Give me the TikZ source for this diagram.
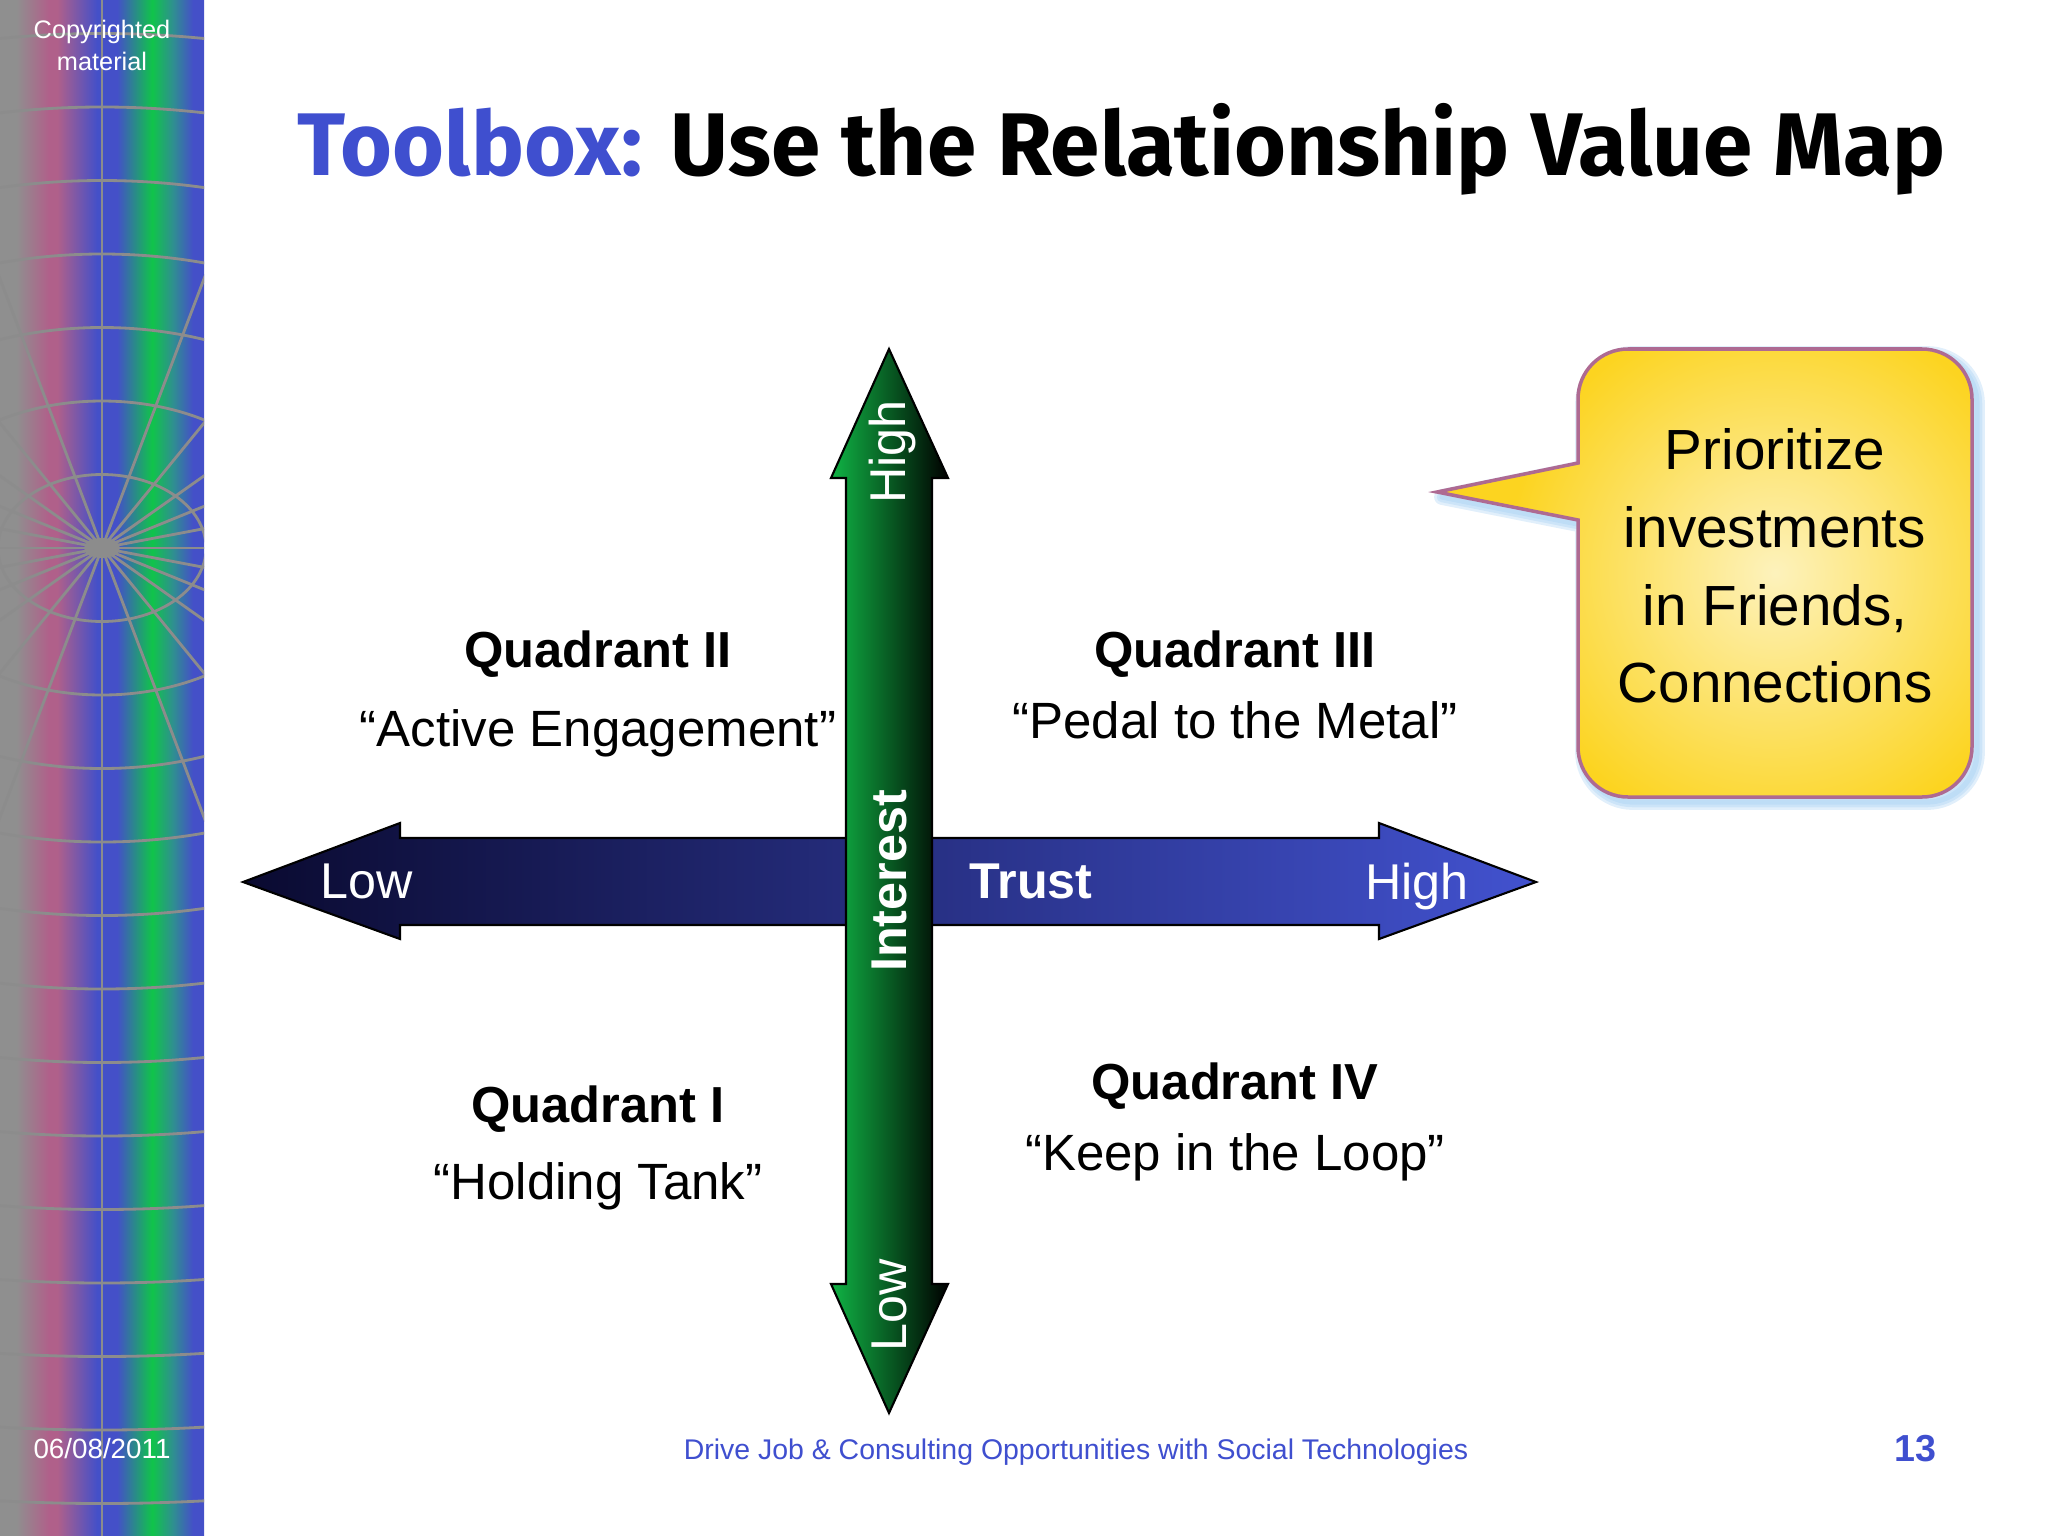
\documentclass[tikz,border=0pt]{standalone}
\usepackage{fontspec}
\setmainfont{Liberation Sans}
\newfontfamily\titlefont{Fira Sans}
\definecolor{sidegray}{HTML}{8F8F8F}
\definecolor{sidepink}{HTML}{B0608A}
\definecolor{sideblue}{HTML}{4450C8}
\definecolor{sidegreen}{HTML}{10C44A}
\definecolor{sideteal}{HTML}{2F8F90}
\definecolor{gridgray}{HTML}{8C8C8C}
\definecolor{toolblue}{HTML}{3F4FCF}
\definecolor{trustdark}{HTML}{0A0A30}
\definecolor{trustlight}{HTML}{4252CF}
\definecolor{interestlight}{HTML}{10B445}
\definecolor{interestmid}{HTML}{0A8A35}
\definecolor{bubbleedge}{HTML}{AE6A92}
\definecolor{bubbleshadow}{HTML}{9CCBF2}
\definecolor{bubbleyellow}{HTML}{FCD420}
\definecolor{bubblepale}{HTML}{FDF2BC}
\pgfdeclarehorizontalshading{sidebarshade}{100bp}{color(0bp)=(sidegray); color(29bp)=(sidegray); color(37bp)=(sidepink); color(39bp)=(sidepink); color(48.8bp)=(sideblue); color(53.7bp)=(sideblue); color(62.3bp)=(sidegreen); color(67.4bp)=(sideteal); color(72.3bp)=(sideblue); color(100bp)=(sideblue)}
\newcommand{\bubblepath}{(1578,520) -- (1578,747) arc (180:90:50) -- (1922,797) arc (90:0:50) -- (1972,399) arc (0:-90:50) -- (1628,349) arc (-90:-180:50) -- (1578,463) -- (1437,492) -- cycle}
\newcommand{\fsize}[1]{\fontsize{#1}{#1}\selectfont}
\tikzset{
  gridline/.style={color=gridgray, line width=0.8pt},
  axisline/.style={draw=black, line width=0.6pt},
  quadhead/.style={font=\fsize{14.4}\bfseries, anchor=center},
  quadtext/.style={font=\fsize{14.5}, anchor=center},
  axislabel/.style={font=\fsize{14.3}, text=white, anchor=center},
  axisbold/.style={font=\fsize{14.3}\bfseries, text=white, anchor=center},
}
\begin{document}
\begin{tikzpicture}[x=0.01cm, y=-0.01cm]
            \useasboundingbox (0,0) rectangle (2048,1536);

            % Drawing side bar
            \shade [shading=sidebarshade] (0,0) rectangle (204,1536);%
            \begin{scope}
            \clip (0,0) rectangle (204,1536);
            % Drawing rings of the grid
            \foreach \k in {1,...,14} {
              \draw [gridline] (102,548) ellipse ({\k*104} and {\k*73.5});%
            }
            % Drawing spokes of the grid
            \foreach \a in {0,15,...,345} {
              \draw [gridline] (102,548) -- ({102+1400*cos(\a)},{548+990*sin(\a)});%
            }
            \fill [gridgray] (102,548) ellipse (18 and 10);%
            \end{scope}

            % Marking side bar texts
            \node [font=\fsize{7.2}, text=white, align=center, inner sep=0pt] (copyright) at (102,45) {Copyrighted\\[1.9pt]material};%
            \node [font=\fsize{7.9}, text=white, inner sep=0pt] (slidedate) at (102,1449) {06/08/2011};%

            % Marking title
            \node [font=\titlefont\fsize{25.3}\bfseries, anchor=west, inner sep=0pt] (title) at (297,149) {\textcolor{toolblue}{Toolbox:} Use the Relationship Value Map};%

            % Drawing trust arrow
            \draw [axisline, left color=trustdark, right color=trustlight] (243,882) -- (400,823) -- (400,838) -- (1379,838) -- (1379,823) -- (1536,882) -- (1379,939) -- (1379,925) -- (400,925) -- (400,939) -- cycle;%

            % Drawing interest arrow
            \draw [axisline, left color=interestlight, middle color=interestmid, right color=black] (889,349) -- (948,478) -- (932,478) -- (932,1284) -- (948,1284) -- (889,1413) -- (831,1284) -- (846,1284) -- (846,478) -- (831,478) -- cycle;%

            % Marking labels of the arrows
            \node [axislabel] (trustlow) at (367,881) {Low};%
            \node [axisbold] (trust) at (1031,881) {Trust};%
            \node [axislabel] (trusthigh) at (1417,886) {High};%
            \node [axislabel, rotate=90] (interesthigh) at (892,452) {High};%
            \node [axisbold, rotate=90] (interest) at (889,881) {Interest};%
            \node [axislabel, rotate=90] (interestlow) at (889,1305) {Low};%

            % Marking quadrants
            \node [quadhead] (quadtwo) at (598,654) {Quadrant II};%
            \node [quadtext] (activetext) at (598,733) {“Active Engagement”};%
            \node [quadhead] (quadthree) at (1235,654) {Quadrant III};%
            \node [quadtext] (pedaltext) at (1235,720) {“Pedal to the Metal”};%
            \node [quadhead] (quadone) at (598,1109) {Quadrant I};%
            \node [quadtext] (holdingtext) at (598,1186) {“Holding Tank”};%
            \node [quadhead] (quadfour) at (1235,1086) {Quadrant IV};%
            \node [quadtext] (keeptext) at (1235,1157) {“Keep in the Loop”};%

            % Drawing bubble
            \foreach \w in {4.5,3,1.5} {
              \draw [color=bubbleshadow, opacity=0.3, line width=\w pt, xshift=0.05cm, yshift=-0.05cm, line join=round] \bubblepath;%
            }
            \fill [bubbleyellow] \bubblepath;%
            \begin{scope}
            \clip \bubblepath;
            \shade [inner color=bubblepale, outer color=bubbleyellow] (1775,573) circle (270);%
            \end{scope}
            \draw [color=bubbleedge, line width=1pt] \bubblepath;%
            \node [font=\fsize{16.1}, align=center, inner sep=0pt] (bubbletext) at (1775,566) {Prioritize\\[6pt]investments\\[6pt]in Friends,\\[6pt]Connections};%

            % Marking footer
            \node [font=\fsize{8.09}, text=toolblue, inner sep=0pt] (footer) at (1076,1452) {Drive Job \& Consulting Opportunities with Social Technologies};%
            \node [font=\fsize{10.7}\bfseries, text=toolblue, inner sep=0pt] (pagenum) at (1915,1449) {13};%
\end{tikzpicture}
\end{document}
